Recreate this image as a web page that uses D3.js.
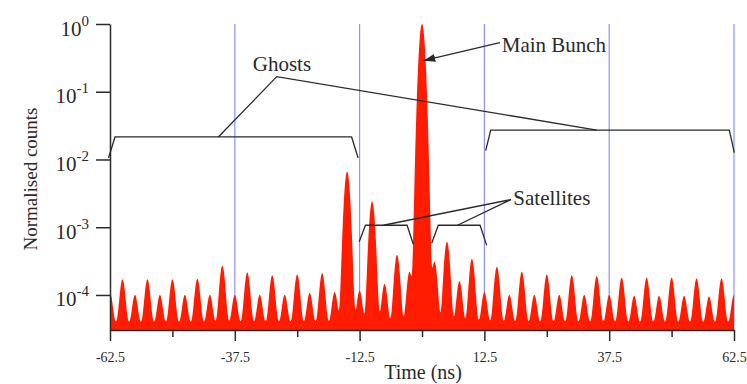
<!DOCTYPE html>
<html>
<head>
<meta charset="utf-8">
<script src="https://cdn.jsdelivr.net/npm/d3@7"></script>
<style>
  body { margin: 0; background: #fff; }
  svg { display: block; font-family: "Liberation Serif", "Times New Roman", serif; }
</style>
</head>
<body>
<svg id="chart" width="747" height="384"></svg>
<script>
// bunch slots (ns) and the normalised counts at each peak
const bunchTimes = [
  -62.5, -60, -57.5, -55, -52.5, -50, -47.5, -45, -42.5, -40,
  -37.5, -35, -32.5, -30, -27.5, -25, -22.5, -20, -17.5, -15,
  -12.5, -10, -7.5, -5, -2.5, 0, 2.5, 5, 7.5, 10,
  12.5, 15, 17.5, 20, 22.5, 25, 27.5, 30, 32.5, 35,
  37.5, 40, 42.5, 45, 47.5, 50, 52.5, 55, 57.5, 60, 62.5
];
const bunchCounts = [
  1.06e-4, 1.7e-4, 1.0e-4, 1.7e-4, 1.0e-4, 1.7e-4, 1.0e-4, 1.73e-4, 1.0e-4, 2.7e-4,
  1.0e-4, 2.15e-4, 1.0e-4, 1.95e-4, 1.0e-4, 2.0e-4, 1.07e-4, 2.1e-4, 1.1e-4, 6.6e-3,
  1.15e-4, 2.4e-3, 1.45e-4, 3.9e-4, 2.2e-4, 1.0, 3.1e-4, 6.1e-4, 1.6e-4, 3.4e-4,
  1.1e-4, 2.6e-4, 1.0e-4, 2.2e-4, 1.0e-4, 2.0e-4, 1.0e-4, 1.95e-4, 1.0e-4, 1.9e-4,
  1.0e-4, 1.8e-4, 0.97e-4, 1.8e-4, 0.97e-4, 1.8e-4, 0.97e-4, 1.75e-4, 0.95e-4, 1.75e-4, 1.0e-4
];
const backgroundLevel = 3.6e-5;

const xMajorTicks = [-62.5, -37.5, -12.5, 12.5, 37.5, 62.5];
const xMinorTicks = [-50, -25, 0, 25, 50];
const yTicks = [1, 1e-1, 1e-2, 1e-3, 1e-4];
const yTickExponents = ["0", "-1", "-2", "-3", "-4"];
const guideTimes = [-37.5, -12.5, 12.5, 37.5, 62.5];

// annotations, in data units (ns, counts)
const ghostBrackets = [
  { from: -62.8, to: -12.8, inset: 1.3, footL: 0.0105, footR: 0.0105, top: 0.0215 },
  { from: 12.76, to: 62.56, inset: 1.0, footL: 0.0135, footR: 0.0126, top: 0.0272 }
];
const ghostPointer = [[-40.8, 0.0215], [-29.1, 0.167], [35.0, 0.0272]];
const ghostLabel = { text: "Ghosts", t: -33.9, v: 0.204 };

const satBrackets = [
  { from: -12.58, to: -1.74, inset: 1.25, footL: 6.1e-4, footR: 5.6e-4, top: 1.07e-3 },
  { from: 1.94, to: 12.96, inset: 1.33, footL: 5.8e-4, footR: 5.4e-4, top: 1.07e-3 }
];
const satPointer = [[-7.75, 1.07e-3], [17.83, 2.56e-3], [7.11, 1.07e-3]];
const satLabel = { text: "Satellites", t: 18.3, v: 2.13e-3 };

const mainArrow = [[15.6, 0.53], [0.26, 0.287]];
const mainLabel = { text: "Main Bunch", t: 15.97, v: 0.39 };

const margin = { top: 24, right: 13, bottom: 54, left: 110 };
const width = 747 - margin.left - margin.right;
const height = 384 - margin.top - margin.bottom;
const bunchSigma = 0.46, mainSigma = 0.46;
const ink = "#2a2a2a";

const svg = d3.select("#chart");
const g = svg.append("g").attr("transform", `translate(${margin.left},${margin.top})`);

const x = d3.scaleLinear().domain([-62.5, 62.5]).range([0, width]);
const y = d3.scaleLog().domain([Math.pow(10, -4.517), 1]).range([height, 0]);

// guide lines at bucket boundaries
g.append("g").selectAll("line")
  .data(guideTimes)
  .join("line")
  .attr("x1", d => x(d)).attr("x2", d => x(d))
  .attr("y1", 0).attr("y2", height)
  .attr("stroke", "#9090ff")
  .attr("stroke-width", 1.2);

// build the trace from the bunch peaks
const samples = d3.range(-63, 63.001, 0.02).map(t => {
  let v = backgroundLevel;
  bunchTimes.forEach((c, i) => {
    const s = bunchCounts[i] >= 0.5 ? mainSigma : bunchSigma;
    const dt = t - c;
    if (Math.abs(dt) < 6 * s) v += (bunchCounts[i] - backgroundLevel) * Math.exp(-dt * dt / (2 * s * s));
  });
  return { t, v };
});

svg.append("defs").append("clipPath").attr("id", "plotClip")
  .append("rect").attr("x", 0).attr("y", -2).attr("width", width).attr("height", height + 2);

const area = d3.area()
  .x(d => x(d.t))
  .y0(height)
  .y1(d => y(Math.max(d.v, y.domain()[0])));

g.append("path")
  .datum(samples)
  .attr("clip-path", "url(#plotClip)")
  .attr("fill", "#ff1c00")
  .attr("d", area);

// axes
const xAxis = g.append("g")
  .attr("transform", `translate(0,${height})`)
  .call(d3.axisBottom(x).tickValues(xMajorTicks).tickSize(11).tickSizeOuter(0).tickPadding(11)
    .tickFormat(d => String(d)));
g.append("g")
  .attr("transform", `translate(0,${height})`)
  .call(d3.axisBottom(x).tickValues(xMinorTicks).tickSize(7).tickSizeOuter(0).tickFormat(""))
  .call(a => a.select(".domain").remove());

const yAxis = g.append("g")
  .call(d3.axisLeft(y).tickValues(yTicks).tickSize(14).tickSizeOuter(0).tickFormat(""));

g.selectAll(".tick line").attr("stroke", ink).attr("stroke-width", 1.5);
g.selectAll(".domain").attr("stroke", ink).attr("stroke-width", 1.5);
xAxis.selectAll("text")
  .attr("fill", ink)
  .style("font-family", "'Liberation Serif', serif")
  .style("font-size", "14px");

yAxis.selectAll(".tick").each(function(d, i) {
  const t = d3.select(this).append("text")
    .attr("x", -21)
    .attr("y", 11)
    .attr("text-anchor", "end")
    .attr("fill", ink)
    .style("font-family", "'Liberation Serif', serif")
    .style("font-size", "21px");
  t.append("tspan").text("10");
  t.append("tspan").attr("dy", -10).style("font-size", "15px").text(yTickExponents[i]);
});

// axis titles
svg.append("text")
  .attr("transform", `translate(36.5,${margin.top + height / 2 + 2}) rotate(-90)`)
  .attr("text-anchor", "middle")
  .attr("fill", ink)
  .style("font-size", "19px")
  .text("Normalised counts");

svg.append("text")
  .attr("x", margin.left + x(0) + 1)
  .attr("y", 379)
  .attr("text-anchor", "middle")
  .attr("fill", ink)
  .style("font-size", "20px")
  .text("Time (ns)");

// annotations
const line = d3.line().x(d => x(d[0])).y(d => y(d[1]));
const bracketPts = b => [
  [b.from, b.footL], [b.from + b.inset, b.top], [b.to - b.inset, b.top], [b.to, b.footR]
];

const ann = g.append("g")
  .attr("fill", "none")
  .attr("stroke", ink)
  .attr("stroke-width", 1.3);

ghostBrackets.concat(satBrackets).forEach(b => ann.append("path").attr("d", line(bracketPts(b))));
ann.append("path").attr("d", line(ghostPointer));
ann.append("path").attr("d", line(satPointer));

svg.append("defs").append("marker")
  .attr("id", "arrowHead")
  .attr("markerUnits", "userSpaceOnUse")
  .attr("viewBox", "0 0 12 8")
  .attr("markerWidth", 12).attr("markerHeight", 8)
  .attr("refX", 12).attr("refY", 4)
  .attr("orient", "auto")
  .append("path").attr("d", "M0,0L12,4L0,8Z").attr("fill", ink);

ann.append("path")
  .attr("d", line(mainArrow))
  .attr("marker-end", "url(#arrowHead)");

[ghostLabel, satLabel, mainLabel].forEach(l => {
  g.append("text")
    .attr("x", x(l.t))
    .attr("y", y(l.v))
    .attr("fill", ink)
    .style("font-size", "21px")
    .text(l.text);
});
</script>
</body>
</html>
